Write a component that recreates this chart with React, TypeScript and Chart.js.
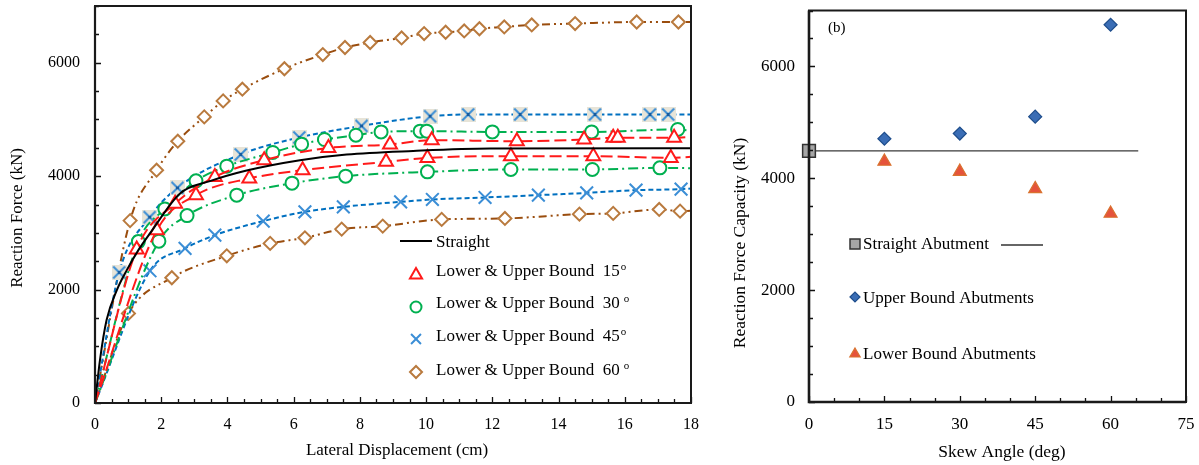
import React, { useEffect, useRef } from "react";
import { Chart, registerables } from "chart.js";

Chart.register(...registerables);

const SERIF = "'Liberation Serif', 'Times New Roman', Times, serif";

// ---------- (a) lateral displacement (cm) vs reaction force (kN) ----------
const dispTicks = [0, 2, 4, 6, 8, 10, 12, 14, 16, 18];
const forceTicks = [0, 2000, 4000, 6000];

const straightDisp = [0, 0.15, 0.35, 0.66, 0.96, 1.31, 1.66, 2.57, 3.47, 4.58, 6.19, 7.6, 9.61, 11.93, 18];
const straightForce = [0, 758, 1462, 1991, 2343, 2696, 2990, 3695, 3912, 4100, 4282, 4382, 4445, 4488, 4493];

const skew15UpperDisp = [0, 1.26, 2.42, 3.62, 5.11, 7.05, 8.91, 10.17, 12.74, 14.77, 15.65, 15.79, 17.49, 18];
const skew15UpperForce = [0, 2708, 3515, 3987, 4282, 4498, 4558, 4634, 4616, 4646, 4675, 4675, 4675, 4692];
const skew15LowerDisp = [0, 1.87, 3.05, 4.66, 6.27, 8.79, 10.04, 12.56, 15.05, 17.39, 18];
const skew15LowerForce = [0, 3048, 3665, 3959, 4105, 4252, 4322, 4352, 4352, 4322, 4340];

const skew30UpperDisp = [0, 1.31, 2.11, 3.05, 3.98, 5.37, 6.24, 6.93, 7.88, 8.64, 9.82, 10.02, 12.0, 15.0, 17.6, 18];
const skew30UpperForce = [0, 2846, 3422, 3917, 4176, 4417, 4564, 4646, 4722, 4780, 4793, 4793, 4780, 4780, 4823, 4798];
const skew30LowerDisp = [0, 1.93, 2.78, 4.28, 5.95, 7.57, 10.04, 12.56, 15.02, 17.06, 18];
const skew30LowerForce = [0, 2854, 3304, 3665, 3876, 4000, 4076, 4118, 4118, 4146, 4140];

const skew45UpperDisp = [0, 0.73, 1.65, 2.49, 4.4, 6.17, 8.05, 10.12, 11.27, 12.84, 15.1, 16.76, 17.31, 18];
const skew45UpperForce = [0, 2303, 3277, 3794, 4382, 4682, 4886, 5057, 5087, 5087, 5087, 5087, 5087, 5087];
const skew45LowerDisp = [0, 1.66, 2.72, 3.62, 5.08, 6.34, 7.5, 9.23, 10.19, 11.78, 13.39, 14.85, 16.34, 17.7, 18];
const skew45LowerForce = [0, 2331, 2726, 2960, 3207, 3371, 3459, 3547, 3589, 3624, 3665, 3705, 3753, 3771, 3783];

const skew60UpperDisp = [0, 1.06, 1.86, 2.5, 3.3, 3.87, 4.45, 5.72, 6.88, 7.55, 8.31, 9.26, 9.94, 10.59, 11.15, 11.61, 12.36, 13.19, 14.5, 16.36, 17.62, 18];
const skew60UpperForce = [0, 3216, 4105, 4616, 5045, 5327, 5533, 5894, 6144, 6268, 6356, 6437, 6514, 6537, 6560, 6599, 6631, 6666, 6690, 6718, 6718, 6718];
const skew60LowerDisp = [0, 1.01, 2.32, 3.98, 5.29, 6.34, 7.45, 8.69, 10.47, 12.38, 14.63, 15.65, 17.04, 17.67, 18];
const skew60LowerForce = [0, 1580, 2208, 2595, 2814, 2913, 3066, 3119, 3237, 3254, 3330, 3343, 3413, 3383, 3390];

// ---------- (b) skew angle (deg) vs reaction force capacity (kN) ----------
const angleTicks = [0, 15, 30, 45, 60, 75];
const capacityTicks = [0, 2000, 4000, 6000];
const straightLineAngles = [0, 65.5];
const straightCapacity = 4490;
const skewAngles = [15, 30, 45, 60];
const upperCapacity = [4707, 4800, 5102, 6745];
const lowerCapacity = [4300, 4120, 3810, 3370];

const RED = "#ff1a1a";
const GREEN = "#00b050";
const BLUE_LINE = "#0070c0";
const BLUE_MARK = "#3b8ed6";
const BROWN_LINE = "#9a4d0e";
const BROWN_MARK = "#b97a3e";

type Pt = { x: number; y: number };
const pairs = (xs: number[], ys: number[]): Pt[] => xs.map((x, i) => ({ x, y: ys[i] }));

// curve end points (origin and right edge) carry no marker
const markerRadius = (r: number) => (c: any) => (c.raw && c.raw.x > 0 && c.raw.x < 18 ? r : 0);

function boxedCross(): HTMLCanvasElement {
  const s = 15;
  const c = document.createElement("canvas");
  c.width = s;
  c.height = s;
  const g = c.getContext("2d")!;
  g.fillStyle = "#e7e4d8";
  g.fillRect(0, 0, s, s);
  g.strokeStyle = BLUE_MARK;
  g.lineWidth = 2;
  g.beginPath();
  g.moveTo(1.5, 1.5);
  g.lineTo(s - 1.5, s - 1.5);
  g.moveTo(s - 1.5, 1.5);
  g.lineTo(1.5, s - 1.5);
  g.stroke();
  g.fillStyle = "#155a9e";
  g.fillRect(s / 2 - 1.5, s / 2 - 1.5, 3, 3);
  return c;
}

function shape(ctx: CanvasRenderingContext2D, kind: string, x: number, y: number, r: number, stroke: string, fill: string | null, lw: number) {
  ctx.save();
  ctx.strokeStyle = stroke;
  ctx.lineWidth = lw;
  ctx.setLineDash([]);
  ctx.beginPath();
  if (kind === "triangle") {
    ctx.moveTo(x, y - r);
    ctx.lineTo(x + r * 0.866, y + r / 2);
    ctx.lineTo(x - r * 0.866, y + r / 2);
    ctx.closePath();
  } else if (kind === "circle") {
    ctx.arc(x, y, r, 0, Math.PI * 2);
  } else if (kind === "cross") {
    const d = r * 0.707;
    ctx.moveTo(x - d, y - d);
    ctx.lineTo(x + d, y + d);
    ctx.moveTo(x + d, y - d);
    ctx.lineTo(x - d, y + d);
  } else if (kind === "diamond") {
    ctx.moveTo(x - r, y);
    ctx.lineTo(x, y - r);
    ctx.lineTo(x + r, y);
    ctx.lineTo(x, y + r);
    ctx.closePath();
  } else if (kind === "square") {
    ctx.rect(x - r, y - r, 2 * r, 2 * r);
  }
  if (fill && kind !== "cross") {
    ctx.fillStyle = fill;
    ctx.fill();
  }
  ctx.stroke();
  ctx.restore();
}

// inward tick marks, plot frame and axis titles
function frameAndTicks(o: {
  xMajor: number[]; xMinor: number; yMajor: number[]; yMinor: number; lw: number; axisLw: number;
  xTitle: string; xTitleAt: [number, number]; yTitle: string; yTitleAt: [number, number]; titleSize: number;
}) {
  return {
    id: "frameAndTicks",
    afterDraw(chart: any) {
      const { ctx, chartArea: a } = chart;
      const xs = chart.scales.x;
      const ys = chart.scales.y;
      ctx.save();
      ctx.strokeStyle = "#111";
      ctx.lineWidth = 1.3;
      ctx.beginPath();
      for (let v = xs.min; v <= xs.max + 1e-9; v += o.xMinor) {
        const px = Math.round(xs.getPixelForValue(v)) + 0.5;
        const len = o.xMajor.some((m) => Math.abs(m - v) < 1e-6) ? 6 : 4;
        ctx.moveTo(px, a.bottom);
        ctx.lineTo(px, a.bottom - len);
      }
      for (let v = ys.min; v <= ys.max + 1e-9; v += o.yMinor) {
        const py = Math.round(ys.getPixelForValue(v)) + 0.5;
        const len = o.yMajor.some((m) => Math.abs(m - v) < 1e-6) ? 6 : 4;
        ctx.moveTo(a.left, py);
        ctx.lineTo(a.left + len, py);
      }
      ctx.stroke();
      ctx.strokeStyle = "#1a1a1a";
      ctx.lineWidth = o.lw;
      ctx.strokeRect(a.left, a.top, a.right - a.left, a.bottom - a.top);
      ctx.lineWidth = o.axisLw;
      ctx.beginPath();
      ctx.moveTo(a.left, a.top);
      ctx.lineTo(a.left, a.bottom);
      ctx.lineTo(a.right, a.bottom);
      ctx.stroke();

      ctx.fillStyle = "#000";
      ctx.font = `${o.titleSize}px ${SERIF}`;
      ctx.textAlign = "center";
      ctx.textBaseline = "middle";
      ctx.fillText(o.xTitle, o.xTitleAt[0], o.xTitleAt[1]);
      ctx.translate(o.yTitleAt[0], o.yTitleAt[1]);
      ctx.rotate(-Math.PI / 2);
      ctx.fillText(o.yTitle, 0, 0);
      ctx.restore();
    },
  };
}

const degreeLabel = (ctx: CanvasRenderingContext2D, text: string, sup: string, gap: number, x: number, y: number) => {
  ctx.font = `17px ${SERIF}`;
  ctx.fillText(text, x, y);
  const w = ctx.measureText(text).width;
  ctx.font = `11px ${SERIF}`;
  ctx.fillText(sup, x + w + gap, y - 5);
};

const leftLegend = {
  id: "leftLegend",
  afterDraw(chart: any) {
    const ctx: CanvasRenderingContext2D = chart.ctx;
    ctx.save();
    ctx.fillStyle = "#000";
    ctx.textBaseline = "middle";
    ctx.textAlign = "left";
    ctx.strokeStyle = "#000";
    ctx.lineWidth = 2;
    ctx.beginPath();
    ctx.moveTo(400, 241);
    ctx.lineTo(432, 241);
    ctx.stroke();
    ctx.font = `17px ${SERIF}`;
    ctx.fillText("Straight", 436, 243);
    shape(ctx, "triangle", 416, 275, 7, RED, "#fff", 2);
    degreeLabel(ctx, "Lower & Upper Bound  15", "o", 1, 436, 272);
    shape(ctx, "circle", 416, 307, 5.5, GREEN, "#fff", 2);
    degreeLabel(ctx, "Lower & Upper Bound  30", "o", 4, 436, 304);
    shape(ctx, "cross", 416, 339, 7, BLUE_MARK, null, 2);
    degreeLabel(ctx, "Lower & Upper Bound  45", "o", 1, 436, 337);
    shape(ctx, "diamond", 416, 372, 6, BROWN_MARK, "#fff", 2);
    degreeLabel(ctx, "Lower & Upper Bound  60", "o", 4, 436, 371);
    ctx.restore();
  },
};

const rightLegend = {
  id: "rightLegend",
  afterDraw(chart: any) {
    const ctx: CanvasRenderingContext2D = chart.ctx;
    ctx.save();
    ctx.fillStyle = "#000";
    ctx.textBaseline = "middle";
    ctx.textAlign = "left";
    ctx.font = `15px ${SERIF}`;
    ctx.fillText("(b)", 118, 28);
    ctx.font = `17px ${SERIF}`;
    shape(ctx, "square", 145, 244, 5, "#333", "#a6a6a6", 1.5);
    ctx.fillStyle = "#000";
    ctx.fillText("Straight Abutment", 153, 245);
    ctx.strokeStyle = "#333";
    ctx.lineWidth = 1.3;
    ctx.beginPath();
    ctx.moveTo(291, 245);
    ctx.lineTo(333, 245);
    ctx.stroke();
    shape(ctx, "diamond", 145, 297, 5, "#1f4e8c", "#3a6db5", 1.2);
    ctx.fillStyle = "#000";
    ctx.fillText("Upper Bound Abutments", 153, 299);
    shape(ctx, "triangle", 145, 354, 6, "#d9722f", "#e5533b", 1.2);
    ctx.fillStyle = "#000";
    ctx.fillText("Lower Bound Abutments", 153, 355);
    ctx.restore();
  },
};

function curve(xs: number[], ys: number[], color: string, markColor: string, dash: number[], style: any, r: number) {
  return {
    data: pairs(xs, ys),
    showLine: true,
    borderColor: color,
    borderWidth: 2,
    borderDash: dash,
    fill: false,
    cubicInterpolationMode: "monotone",
    pointStyle: style,
    pointRadius: markerRadius(r),
    pointBorderColor: markColor,
    pointBackgroundColor: "#fff",
    pointBorderWidth: 2,
  };
}

function scaleBase(min: number, max: number, tickValues: number[], size: number, fit: (s: any) => void, pad: number) {
  return {
    type: "linear",
    min,
    max,
    afterBuildTicks: (s: any) => {
      s.ticks = tickValues.map((v) => ({ value: v }));
    },
    afterFit: (s: any) => {
      fit(s);
      s.paddingTop = 0;
      s.paddingBottom = 0;
      s.paddingLeft = 0;
      s.paddingRight = 0;
    },
    grid: { display: false, drawTicks: false },
    border: { display: false },
    ticks: {
      color: "#000",
      font: { family: SERIF, size },
      padding: pad,
      maxRotation: 0,
      autoSkip: false,
      callback: (v: any) => String(v),
    },
    title: { display: false },
  };
}

function DisplacementChart() {
  const ref = useRef<HTMLCanvasElement>(null);
  useEffect(() => {
    const cross = boxedCross();
    const chart = new Chart(ref.current!, {
      type: "scatter",
      data: {
        datasets: [
          {
            data: pairs(straightDisp, straightForce),
            showLine: true,
            borderColor: "#000",
            borderWidth: 2,
            pointRadius: 0,
            cubicInterpolationMode: "monotone",
          },
          curve(skew15UpperDisp, skew15UpperForce, RED, RED, [12, 5], "triangle", 8),
          curve(skew15LowerDisp, skew15LowerForce, RED, RED, [12, 5], "triangle", 8),
          curve(skew30UpperDisp, skew30UpperForce, GREEN, GREEN, [10, 4, 2, 4], "circle", 6.5),
          curve(skew30LowerDisp, skew30LowerForce, GREEN, GREEN, [10, 4, 2, 4], "circle", 6.5),
          curve(skew45UpperDisp, skew45UpperForce, BLUE_LINE, BLUE_MARK, [5, 3], cross, 7),
          curve(skew45LowerDisp, skew45LowerForce, BLUE_LINE, BLUE_MARK, [5, 3], "crossRot", 9),
          curve(skew60UpperDisp, skew60UpperForce, BROWN_LINE, BROWN_MARK, [8, 4, 2, 4, 2, 4], "rectRot", 6.5),
          curve(skew60LowerDisp, skew60LowerForce, BROWN_LINE, BROWN_MARK, [8, 4, 2, 4, 2, 4], "rectRot", 6.5),
        ] as any,
      },
      options: {
        responsive: false,
        maintainAspectRatio: false,
        animation: false,
        layout: { padding: { left: 0, top: 6, right: 19, bottom: 0 } },
        plugins: { legend: { display: false }, tooltip: { enabled: false } },
        scales: {
          x: scaleBase(0, 18, dispTicks, 16, (s: any) => { s.height = 62; }, 12),
          y: scaleBase(0, 7000, forceTicks, 16, (s: any) => { s.width = 95; }, 15),
        } as any,
      },
      plugins: [
        frameAndTicks({
          xMajor: dispTicks, xMinor: 0.5, yMajor: forceTicks, yMinor: 500, lw: 2, axisLw: 2.2,
          xTitle: "Lateral Displacement (cm)", xTitleAt: [397, 451],
          yTitle: "Reaction Force (kN)", yTitleAt: [18, 218], titleSize: 17,
        }),
        leftLegend,
      ],
    });
    return () => chart.destroy();
  }, []);
  return <canvas ref={ref} width={710} height={465} style={{ position: "absolute", left: 0, top: 0 }} />;
}

function CapacityChart() {
  const ref = useRef<HTMLCanvasElement>(null);
  useEffect(() => {
    const chart = new Chart(ref.current!, {
      type: "scatter",
      data: {
        datasets: [
          {
            data: straightLineAngles.map((x) => ({ x, y: straightCapacity })),
            showLine: true,
            borderColor: "#3a3a3a",
            borderWidth: 1.3,
            pointStyle: "rect",
            pointRadius: [9, 0],
            pointBackgroundColor: "#a6a6a6",
            pointBorderColor: "#333",
            pointBorderWidth: 1.5,
            clip: false,
          },
          {
            data: pairs(skewAngles, upperCapacity),
            pointStyle: "rectRot",
            pointRadius: 6.5,
            pointBackgroundColor: "#3a6db5",
            pointBorderColor: "#1f4e8c",
            pointBorderWidth: 1.2,
          },
          {
            data: pairs(skewAngles, lowerCapacity),
            pointStyle: "triangle",
            pointRadius: 7.5,
            pointBackgroundColor: "#e5533b",
            pointBorderColor: "#d9722f",
            pointBorderWidth: 1.2,
          },
        ] as any,
      },
      options: {
        responsive: false,
        maintainAspectRatio: false,
        animation: false,
        layout: { padding: { left: 0, top: 7, right: 13, bottom: 0 } },
        plugins: { legend: { display: false }, tooltip: { enabled: false } },
        scales: {
          x: scaleBase(0, 75, angleTicks, 17, (s: any) => { s.height = 63; }, 12),
          y: scaleBase(0, 7000, capacityTicks, 17, (s: any) => { s.width = 99; }, 14),
        } as any,
      },
      plugins: [
        frameAndTicks({
          xMajor: angleTicks, xMinor: 5, yMajor: capacityTicks, yMinor: 500, lw: 2, axisLw: 2.6,
          xTitle: "Skew Angle (deg)", xTitleAt: [292, 452],
          yTitle: "Reaction Force Capacity (kN)", yTitleAt: [30, 243], titleSize: 17.5,
        }),
        rightLegend,
      ],
    });
    return () => chart.destroy();
  }, []);
  return <canvas ref={ref} width={489} height={465} style={{ position: "absolute", left: 710, top: 0 }} />;
}

export default function App() {
  return (
    <div style={{ position: "absolute", left: 0, top: 0, width: 1199, height: 465, background: "#fff" }}>
      <DisplacementChart />
      <CapacityChart />
    </div>
  );
}
